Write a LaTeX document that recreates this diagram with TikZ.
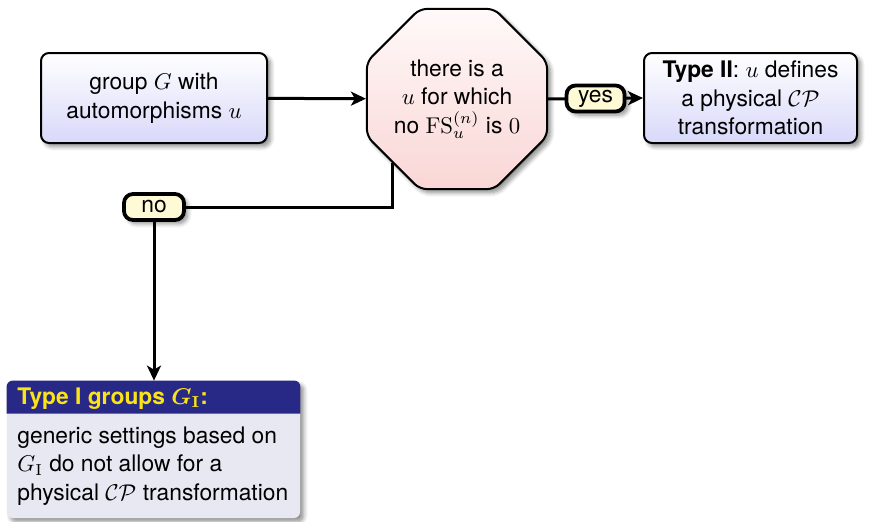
\RequirePackage{fix-cm}
\documentclass[tikz,border=0pt]{standalone}
\usepackage[no-math]{fontspec}
\setmainfont{TeX Gyre Heros}
\usetikzlibrary{shapes.geometric, shadows.blur, arrows.meta}

\definecolor{boxlow}{RGB}{216,216,250}
\definecolor{octlow}{RGB}{250,214,214}
\definecolor{octtop}{RGB}{255,249,249}
\definecolor{tagfill}{RGB}{255,250,214}
\definecolor{headblue}{RGB}{40,40,134}
\definecolor{headyellow}{RGB}{250,228,20}
\definecolor{blockbg}{RGB}{232,232,243}

\tikzset{
  txt/.style={font=\fontsize{11.4pt}{14.25pt}\selectfont},
  headtxt/.style={font=\fontsize{11.4pt}{14.25pt}\selectfont\bfseries\boldmath},
  softshadow/.style={blur shadow={shadow xshift=1.8pt, shadow yshift=-1.8pt,
      shadow blur steps=6, shadow opacity=45}},
  bluebox/.style={txt, draw, line width=1pt, rounded corners=4pt,
      top color=white, bottom color=boxlow, align=center,
      minimum width=113pt, minimum height=45pt, softshadow},
  octa/.style={txt, draw, line width=1pt, regular polygon, regular polygon sides=8,
      minimum size=97.5pt, rounded corners=3.5pt, top color=octtop, bottom color=octlow,
      align=center, inner sep=0pt, softshadow},
  tag/.style={txt, draw, line width=1.9pt, rounded corners=4.5pt, fill=tagfill,
      inner xsep=4pt, inner ysep=0pt, minimum height=13pt, minimum width=29pt,
      softshadow},
  conn/.style={line width=1.5pt},
  arr/.style={conn, -{Stealth[length=7.5pt, width=7pt, inset=2pt]}}
}

\begin{document}
\begin{tikzpicture}[x=0.5pt, y=-0.5pt]
\useasboundingbox (0,0) rectangle (872,521);

% main boxes
\node[bluebox] (grp) at (154,98) {group $G$ with\\automorphisms $u$};
\node[octa] (oct) at (457,99) {there is a\\$u$ for which\\no $\mathrm{FS}_u^{(n)}$ is $0$};
\node[bluebox, minimum width=106.5pt] (typeII) at (750.5,98)
  {\textbf{Type II}: $u$ defines\\a physical $\mathcal{CP}$\\transformation};

% Type I block: body, title bar, texts
\node[fill=blockbg, rounded corners=3pt, minimum width=146.5pt, minimum height=68.5pt,
      inner sep=0pt, softshadow] (typeI) at (153.5,449.5) {};
\fill[headblue, rounded corners=3pt]
  ([yshift=-16.5pt]typeI.north west) -- (typeI.north west) -- (typeI.north east)
  [sharp corners] -- ([yshift=-16.5pt]typeI.north east) -- cycle;
\node[headtxt, anchor=west, inner sep=0pt, text=headyellow] (typeIhead) at (17,398.5)
  {Type I groups $G_{\mathrm{I}}$:};
\node[txt, anchor=west, align=left, inner sep=0pt] (typeItext) at (17,466)
  {generic settings based on\\$G_{\mathrm{I}}$ do not allow for a\\physical $\mathcal{CP}$ transformation};

% connectors
\draw[arr] (grp) -- (oct);
\draw[arr] (oct.east) -- (typeII.west) node[tag, pos=0.5] (yes) {yes};
\node[tag, minimum width=30pt] (no) at (154,207) {no};
\draw[conn] (oct.225) |- (no.east);
\draw[arr] (no.south) -- (no.south |- typeI.north);
\end{tikzpicture}
\end{document}
